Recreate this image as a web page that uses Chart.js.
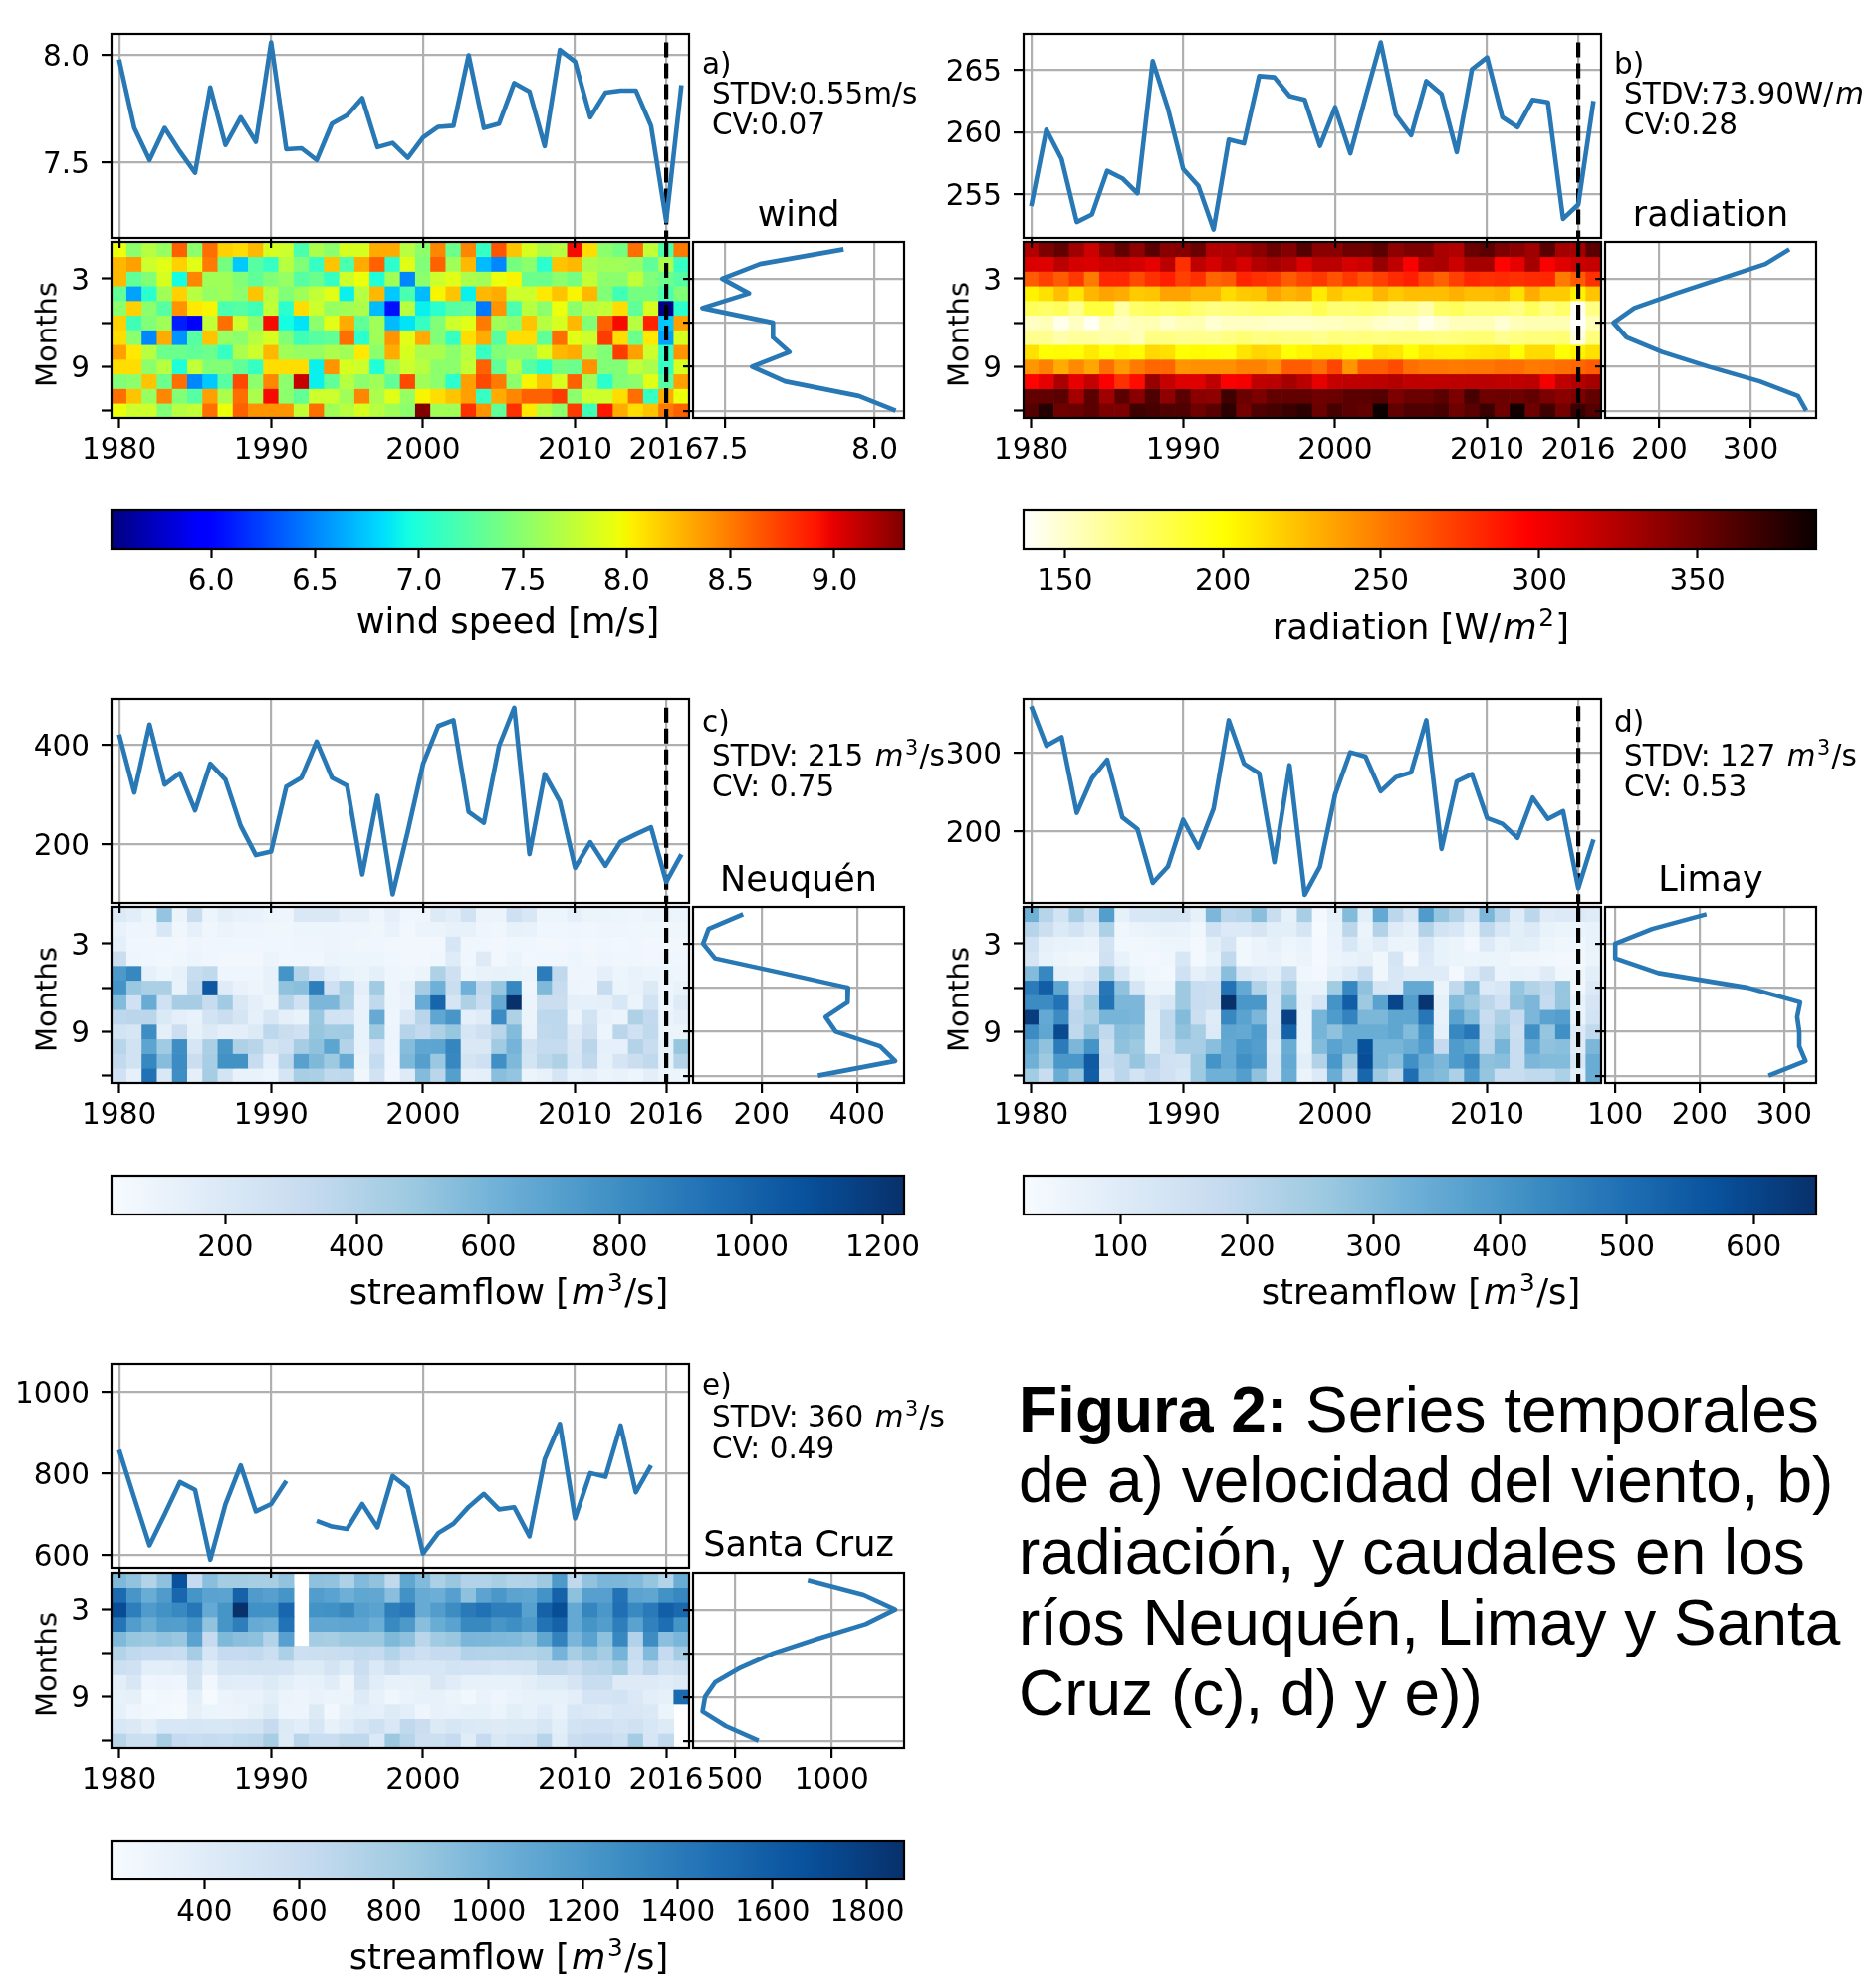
<!DOCTYPE html>
<html>
<head>
<meta charset="utf-8">
<title>Figura 2</title>
<script src="https://cdn.jsdelivr.net/npm/chart.js@4"></script>
<style>
html, body { margin: 0; padding: 0; background: #fff; }
#page { position: relative; width: 1872px; height: 1997px; overflow: hidden; background: #fff; }
#page canvas { position: absolute; }
.txt { position: absolute; font-family: "DejaVu Sans"; color: #000; white-space: nowrap; line-height: 1; }
.txt i { padding-left: 2px; }
.txt sup { font-size: 70%; line-height: 0; padding: 0 1.5px; }
#caption { position: absolute; left: 1023px; top: 1381px; font-family: "Liberation Sans"; font-size: 64px; line-height: 71.3px; color: #000; white-space: nowrap; }
</style>
</head>
<body>
<div id="page"></div>
<script>
// Chart values
const years = [1980,1981,1982,1983,1984,1985,1986,1987,1988,1989,1990,1991,1992,1993,1994,1995,1996,1997,1998,1999,2000,2001,2002,2003,2004,2005,2006,2007,2008,2009,2010,2011,2012,2013,2014,2015,2016,2017];
const months = [1,2,3,4,5,6,7,8,9,10,11,12];

const windYearly = [7.98,7.66,7.51,7.66,7.55,7.45,7.85,7.58,7.71,7.595,8.06,7.56,7.565,7.51,7.68,7.72,7.80,7.57,7.59,7.52,7.615,7.665,7.67,8.0,7.66,7.68,7.87,7.83,7.575,8.025,7.97,7.71,7.825,7.835,7.835,7.67,7.225,7.86];
const radYearly = [254.07,260.2,257.85,252.8,253.4,256.9,256.3,255.1,265.7,261.9,257.05,255.7,252.2,259.4,259.1,264.5,264.4,262.9,262.6,258.9,262.0,258.3,262.8,267.2,261.4,259.75,264.1,263.05,258.4,265.05,266.0,261.2,260.4,262.6,262.4,253.05,254.2,262.5];
const neuquenYearly = [421,304,441,320,343,268,362,330,237,178,185,316,334,406.6,334,318,139,297.5,99,226,361.5,438,450,265,243,398,475,180,341,286,152.5,204,156.5,205,220,234,124,179.5];
const limayYearly = [358.8,308.8,319.6,223.7,267.5,291,218,203,135,155.7,215,179.4,229,341,286,273.7,161.3,284,120,155.7,247,300.5,295,251,269,275,341,178,263.4,272.7,217,209.8,192,243,216,225.8,128.4,190];
const santaCruzYearly = [858,740,624,700,779,760,589,725,820,707,725,782,null,684,670,664,725,668,794,765,604,654,677,718,750,712,717,646,835,922,690,801,792,918,754,820,null,null];

const windMonthly = [7.896,7.617,7.49,7.58,7.424,7.66,7.66,7.715,7.59,7.70,7.947,8.07];
const radMonthly = [342.5,316.3,267.3,218.3,172.5,149.7,164,203,254,310,352,361];
const neuquenMonthly = [161.5,89.5,78,103,243.5,381,380,334,355,448,479.5,318];
const limayMonthly = [208,143.8,100,100,151,257,319,315.5,318,318,325.4,281.6];
const santaCruzMonthly = [877,1165.6,1328,1175,929,700,530,399,347,334,454,623];

const windGrid = [
[7.95,7.5,7.7,7.55,8.6,7.5,8.55,8.15,8.1,8.25,7.85,7.8,7.2,7.65,7.5,7.85,7.85,8.3,8.3,7.7,7.5,8.45,7.35,8.45,7.1,8.65,8.2,7.85,7.65,7.7,8.95,8.1,7.5,7.4,8.55,7.75,7.2,8.5],
[8.25,8.35,7.8,7.9,8.15,7.9,8.5,7.4,6.75,7.25,7.1,7.7,7.45,7.1,8.2,7.2,8.3,8.6,7.05,7.9,7.45,8.6,7.6,8.25,6.7,6.5,7.4,7.5,7.05,8.2,8.25,7.65,7.6,7.6,7.55,7.3,7.65,7.1],
[8.25,7.3,7.45,7.85,6.95,8.45,7.6,7.6,7.45,7.3,7.45,7.55,7.25,7.35,7.1,7.8,7.95,7.0,7.6,6.5,7.5,7.8,7.9,7.65,7.6,7.95,8.0,7.35,7.35,7.5,7.4,7.75,7.5,7.5,7.75,7.45,7.35,7.25],
[7.3,6.6,7.05,7.6,8.15,7.7,7.55,7.6,7.5,8.2,7.7,7.45,7.6,7.75,7.9,6.9,7.7,8.25,6.75,7.2,6.7,8.0,8.2,6.9,8.25,8.3,7.8,7.8,8.05,8.2,8.0,8.25,7.45,7.15,7.4,7.4,7.2,7.45],
[7.5,8.15,7.5,7.25,8.4,8.05,8.0,7.2,7.25,7.15,7.75,7.05,8.1,7.8,7.55,7.6,7.65,6.7,6.05,7.7,6.9,7.05,7.25,7.3,6.45,8.4,7.2,7.7,7.5,7.95,7.5,7.7,7.75,8.1,7.3,7.85,5.55,7.05],
[8.15,7.15,7.45,7.6,6.1,5.95,7.75,8.55,7.8,7.5,8.95,6.95,6.85,7.5,7.9,8.3,7.3,7.6,6.7,6.85,7.1,7.45,7.8,7.9,8.5,7.6,7.5,8.2,7.7,7.85,8.25,7.45,8.6,8.95,7.7,8.85,6.75,8.35],
[8.1,7.5,6.5,8.3,6.55,7.25,8.2,7.55,7.5,7.7,7.85,7.45,7.15,7.25,7.3,8.55,7.05,7.6,8.4,7.9,8.3,7.45,7.1,8.1,8.3,7.25,8.1,8.1,7.3,8.55,7.9,7.8,8.75,8.1,7.35,8.05,6.6,7.85],
[8.35,8.05,7.7,7.35,7.35,7.3,7.35,7.1,7.65,7.8,8.25,7.6,7.55,7.55,7.65,7.6,8.05,7.5,8.3,7.85,7.65,7.65,7.5,7.7,7.1,7.45,7.5,7.5,7.85,8.25,8.3,7.6,7.45,8.75,8.35,7.8,7.1,8.4],
[8.1,8.1,7.5,7.7,7.0,7.75,7.45,7.45,7.3,7.1,8.1,8.1,8.1,6.9,8.4,7.85,7.8,7.0,7.6,7.8,7.7,7.5,7.5,7.75,8.6,7.3,7.7,7.25,7.05,7.4,7.35,8.4,7.45,7.45,7.75,7.65,7.1,7.85],
[7.45,7.5,8.2,7.35,8.55,6.5,6.75,7.25,8.7,7.5,8.45,7.5,9.1,6.9,7.3,7.7,7.5,7.6,7.3,8.7,7.6,7.5,7.05,8.35,8.7,8.5,7.5,8.0,8.2,7.85,8.6,7.6,7.05,7.45,7.5,7.9,7.25,8.35],
[8.55,8.2,7.55,8.45,7.45,7.25,8.35,7.65,8.55,7.65,8.95,7.5,7.3,7.8,7.8,7.6,8.45,7.65,7.9,7.55,8.0,8.1,8.2,8.35,7.1,8.3,8.45,8.6,8.6,8.75,7.5,7.8,7.8,8.1,8.55,7.1,8.3,7.95],
[7.95,7.8,7.8,7.45,7.7,7.75,8.55,7.95,8.6,8.4,8.4,8.4,7.75,8.55,7.6,7.7,7.85,7.7,7.6,7.5,9.33,7.6,7.6,8.8,8.4,7.3,8.8,8.05,7.7,7.5,8.75,7.15,8.9,8.3,8.1,8.2,8.5,8.6]
];

const radGrid = [
[325,345,355,332,315,338,355,338,358,340,342,352,325,325,332,340,352,342,360,340,340,350,350,358,338,345,345,328,325,352,358,345,340,332,358,330,330,358],
[310,308,322,312,310,315,316,313,305,322,278,320,312,322,312,325,330,325,310,322,322,312,315,335,320,298,325,328,315,330,330,295,305,330,298,308,315,318],
[262,272,262,275,250,282,282,268,278,285,272,278,258,262,283,278,275,262,270,275,265,275,265,272,280,285,270,260,272,282,278,280,278,280,282,250,262,278],
[205,212,225,210,228,235,232,220,222,235,235,228,228,214,220,222,235,228,232,208,222,215,215,228,220,225,225,225,230,225,225,228,212,232,220,220,205,222],
[178,175,178,165,185,185,160,175,178,175,178,172,168,170,172,175,175,172,172,180,172,172,175,172,165,165,158,175,178,172,172,172,168,178,168,175,140,168],
[152,155,142,152,140,155,152,155,156,150,155,156,148,152,152,152,150,150,150,152,153,155,155,150,148,150,142,148,154,154,155,148,155,156,156,156,138,155],
[165,165,158,162,162,158,160,155,168,168,165,166,165,168,172,168,170,168,168,165,170,168,170,168,170,170,170,168,170,172,172,165,168,170,170,172,145,170],
[212,200,202,200,208,200,205,202,215,212,200,202,200,198,210,216,214,200,204,208,208,202,200,212,210,200,208,206,205,208,210,212,200,214,214,200,205,212],
[240,248,232,245,234,255,238,250,258,258,240,242,242,242,248,248,242,262,262,255,270,240,262,262,268,255,252,252,250,252,252,255,255,250,252,255,258,262],
[295,305,328,305,318,298,278,292,335,318,308,308,320,298,300,320,322,330,322,305,318,320,320,322,325,320,320,320,322,322,322,320,320,322,300,320,325,330],
[355,355,358,330,358,332,358,340,362,338,358,340,338,368,352,345,355,355,355,350,352,358,358,360,345,352,352,358,345,365,350,352,350,355,345,340,345,355],
[360,378,350,352,358,345,345,368,365,362,362,350,358,375,348,362,365,370,375,352,365,358,355,387,355,362,362,365,350,358,370,350,385,350,368,348,370,360]
];

const neuquenGrid = [
[190,160,100,510,95,310,85,150,125,115,85,80,205,205,205,140,140,80,140,70,80,190,160,260,95,95,280,215,85,85,140,95,95,85,80,95,95,85],
[110,80,80,215,75,130,75,100,80,80,75,75,85,85,85,80,80,75,110,65,95,95,125,125,80,75,125,110,70,70,80,70,80,80,75,75,75,75],
[140,70,70,70,65,80,70,70,70,70,70,70,80,80,85,80,75,70,65,60,60,65,225,75,70,65,70,70,65,65,70,65,70,65,70,65,65,65],
[300,80,70,65,75,85,70,65,65,65,100,70,70,75,95,85,85,85,70,65,65,70,170,70,180,60,100,65,70,70,85,75,80,75,70,65,70,70],
[740,830,130,85,125,310,350,80,80,80,125,770,400,270,160,115,95,140,80,75,95,420,280,85,110,125,115,95,880,350,80,80,140,85,115,95,85,80],
[770,490,430,430,115,350,1050,170,110,85,125,520,540,870,280,430,140,470,80,125,450,620,300,620,350,500,830,80,570,320,85,80,320,95,110,190,80,115],
[560,270,640,270,450,450,320,470,205,140,95,390,270,580,580,410,110,350,85,110,640,990,235,420,310,650,1232,100,300,300,140,130,140,215,100,250,85,180],
[360,370,370,200,140,115,250,300,235,130,215,140,115,490,260,250,110,650,80,205,380,670,760,140,170,810,420,100,360,360,95,250,110,100,420,340,95,140],
[250,225,800,140,290,125,190,140,150,190,360,300,270,500,460,470,115,480,85,390,340,420,500,225,280,380,560,110,350,360,180,280,85,370,270,350,100,95],
[380,260,680,470,800,225,430,760,420,380,245,280,450,520,680,400,115,270,85,550,670,680,840,205,205,470,600,260,330,330,205,370,130,130,400,310,115,500],
[340,260,830,550,810,300,440,780,780,320,130,360,700,570,480,650,100,330,80,570,710,490,830,245,280,790,570,245,360,420,215,350,125,235,300,350,110,400],
[270,130,930,205,800,140,450,245,110,115,85,235,440,430,350,360,75,260,70,180,560,370,710,130,140,540,510,100,125,235,115,140,95,110,85,150,85,85]
];

const limayGrid = [
[330,210,140,240,160,380,80,120,120,130,130,80,310,200,210,290,170,80,240,40,80,300,90,350,200,130,390,270,220,130,310,210,100,200,100,110,110,100],
[210,160,110,140,100,230,50,60,70,75,70,50,150,110,110,130,90,90,130,30,70,200,60,220,100,80,220,140,120,70,190,120,90,110,70,60,60,70],
[150,80,70,65,60,140,45,45,50,55,55,40,90,130,45,60,80,55,70,35,65,120,70,100,60,60,120,70,60,40,110,70,90,85,55,50,50,70],
[130,70,55,50,50,150,70,45,40,50,120,40,70,190,45,60,65,50,60,35,60,70,80,50,130,40,110,70,60,55,60,60,50,50,45,40,40,60],
[300,440,80,75,100,260,120,60,50,40,150,80,110,290,130,110,90,170,50,40,80,110,170,50,120,100,100,100,40,100,160,60,70,65,100,50,50,90],
[470,540,360,130,170,480,280,130,60,60,260,170,160,490,350,220,130,240,70,70,250,440,280,130,120,350,350,60,190,290,110,120,270,220,190,270,50,110],
[430,430,490,180,260,490,310,310,100,120,260,170,160,650,400,400,120,300,80,130,410,540,260,370,600,380,640,80,300,260,200,150,280,310,180,270,70,130],
[620,350,430,200,230,320,320,310,90,190,300,160,100,440,370,310,120,610,70,320,390,450,310,310,360,360,480,70,370,300,170,230,180,310,370,380,60,140],
[430,360,590,190,280,190,290,280,90,190,280,240,110,360,350,390,130,530,70,320,280,340,340,340,360,300,410,80,440,480,190,260,160,420,270,420,110,190],
[350,280,470,310,410,160,280,260,90,160,240,240,290,350,400,380,110,340,70,300,370,340,570,320,320,340,390,180,390,360,200,320,170,350,280,290,100,310],
[330,260,400,400,550,170,200,270,200,150,140,260,410,350,420,390,120,350,90,220,400,260,580,320,290,420,340,310,390,440,280,290,170,310,300,300,120,340],
[250,170,340,270,540,130,200,140,180,150,120,260,330,330,380,280,120,340,60,110,340,190,520,260,200,500,320,300,230,390,270,170,170,190,190,230,90,340]
];

const santaCruzGrid = [
[960,880,720,900,1670,620,920,800,800,780,780,880,null,900,880,740,950,880,650,1100,950,760,850,730,730,780,720,730,830,1200,650,880,980,970,950,870,720,1050],
[1500,1220,1050,1180,1530,1230,1130,1120,1560,1180,1150,1230,null,1170,1130,1030,1100,1090,920,1250,1060,1040,1150,900,1120,1210,1120,1100,1240,1560,900,1150,1150,1450,1120,1100,1250,1320],
[1700,1380,1180,1250,1310,1420,1070,1230,1878,1260,1260,1530,null,1240,1260,1310,1160,1130,1380,1420,1060,1170,1280,1400,1460,1380,1380,1140,1560,1690,1080,1330,1210,1470,1300,1400,1580,1520],
[1430,1170,1050,1170,1160,1240,880,1230,1380,1060,1040,1450,null,1090,1090,1110,1110,1040,1300,1200,920,1050,1130,1310,1310,1220,1270,1200,1450,1560,1080,1230,1170,1380,1130,1360,1480,1230],
[960,860,840,880,850,1130,620,960,920,900,720,1150,null,800,780,840,840,840,960,900,680,820,850,980,970,960,950,900,1100,1350,980,1130,900,1320,730,1280,910,980],
[720,650,620,620,600,790,480,620,620,640,570,760,560,570,590,600,640,620,720,620,560,620,620,730,720,720,730,720,760,1000,780,880,800,1000,600,950,620,800],
[560,540,380,380,400,530,380,500,510,520,520,500,420,420,500,420,580,440,560,470,470,470,520,500,500,480,490,510,660,660,600,680,700,800,550,680,530,560],
[370,460,280,290,280,510,250,400,390,390,430,380,320,340,400,290,530,390,340,340,350,460,400,340,340,340,340,370,420,420,490,600,600,410,410,410,400,430],
[340,350,230,260,240,380,220,300,320,320,380,300,290,320,300,300,410,340,270,310,340,340,300,260,310,280,310,340,340,340,370,500,500,520,440,370,350,1500],
[350,280,260,240,230,350,300,290,300,350,420,290,290,430,250,350,380,360,420,380,280,330,320,340,340,300,380,340,400,320,470,440,420,470,460,440,300,null],
[470,440,370,470,470,480,470,470,490,510,620,430,390,480,340,400,480,550,450,650,580,430,480,440,430,410,430,430,480,380,520,540,540,500,540,470,420,null],
[690,570,560,780,620,600,620,600,640,660,780,420,680,580,580,660,660,440,840,700,560,560,620,400,620,450,500,520,700,400,580,620,620,560,800,480,640,null]
];

// tick labels and axis limits
const xTicksFull = [1980,1990,2000,2010,2016];
const xTicksShort = [1980,1990,2000,2010];
const monthTicks = [3,6,9,12];
const monthLabels = [3,9];

const windTicks = [7.5,8.0], windLimits = [7.146,8.10];
const radTicks = [255,260,265], radLimits = [251.53,267.88];
const neuquenTicks = [200,400], neuquenLimits = [82,492.6];
const limayTicks = [200,300], limayLimits = [109.8,368];
const santaCruzTicks = [600,800,1000], santaCruzLimits = [569,1069];

const windSideTicks = [7.5,8.0], windSideLimits = [7.393,8.098];
const radSideTicks = [200,300], radSideLimits = [140.5,371.9];
const neuquenSideTicks = [200,400], neuquenSideLimits = [57,498];
const limaySideTicks = [100,200,300], limaySideLimits = [88,338];
const santaCruzSideTicks = [500,1000], santaCruzSideLimits = [285,1374];

const windBarTicks = [6.0,6.5,7.0,7.5,8.0,8.5,9.0], windBarLimits = [5.52,9.336];
const radBarTicks = [150,200,250,300,350], radBarLimits = [137,387.6];
const neuquenBarTicks = [200,400,600,800,1000,1200], neuquenBarLimits = [26.7,1232.7];
const limayBarTicks = [100,200,300,400,500,600], limayBarLimits = [23.6,649.5];
const santaCruzBarTicks = [400,600,800,1000,1200,1400,1600,1800], santaCruzBarLimits = [203.4,1878];

// matplotlib colormaps as [position, value] per channel
const jetMap = {
    r: [[0,0],[0.35,0],[0.66,1],[0.89,1],[1,0.5]],
    g: [[0,0],[0.125,0],[0.375,1],[0.64,1],[0.91,0],[1,0]],
    b: [[0,0.5],[0.11,1],[0.34,1],[0.65,0],[1,0]]
};
const hotRMap = {
    r: [[0,1],[0.635,1],[1,0.0416]],
    g: [[0,1],[0.254,1],[0.635,0],[1,0]],
    b: [[0,1],[0.254,0],[1,0]]
};
const bluesMap = {
    r: [[0,.969],[.125,.871],[.25,.776],[.375,.62],[.5,.42],[.625,.259],[.75,.129],[.875,.031],[1,.031]],
    g: [[0,.984],[.125,.922],[.25,.859],[.375,.792],[.5,.682],[.625,.573],[.75,.443],[.875,.318],[1,.188]],
    b: [[0,1],[.125,.969],[.25,.937],[.375,.882],[.5,.839],[.625,.776],[.75,.71],[.875,.612],[1,.42]]
};

function channel(points, t) {
    for (let i = 1; i < points.length; i++) {
        if (t <= points[i][0]) {
            const a = points[i - 1], b = points[i];
            return Math.round(255 * (a[1] + (b[1] - a[1]) * (t - a[0]) / (b[0] - a[0])));
        }
    }
    return Math.round(255 * points[points.length - 1][1]);
}

function colorFor(map, value, limits) {
    const t = Math.min(1, Math.max(0, (value - limits[0]) / (limits[1] - limits[0])));
    return `rgb(${channel(map.r, t)},${channel(map.g, t)},${channel(map.b, t)})`;
}

Chart.defaults.font.family = '"DejaVu Sans"';
Chart.defaults.font.size = 29.5;
Chart.defaults.color = '#000';

const page = document.getElementById('page');
const LINE_BLUE = '#2878b5';
const LINE_W = 4.6;
const GRID_GRAY = '#b0b0b0';
const SPINE = 2.2;

// black box round the plot area
const framePlugin = {
    id: 'frame',
    afterDraw(chart) {
        const a = chart.chartArea, c = chart.ctx;
        c.save();
        c.strokeStyle = '#000';
        c.lineWidth = SPINE;
        c.strokeRect(a.left, a.top, a.right - a.left, a.bottom - a.top);
        c.restore();
    }
};

// canvas is bigger than the plot so labels fit; gutters pin the plot area to the rect
function newChart(rect, gutter, config) {
    const canvas = document.createElement('canvas');
    canvas.width = rect.w + gutter.l + gutter.r;
    canvas.height = rect.h + gutter.t + gutter.b;
    canvas.style.left = (rect.x - gutter.l) + 'px';
    canvas.style.top = (rect.y - gutter.t) + 'px';
    page.appendChild(canvas);
    config.plugins = [framePlugin];
    config.options = Object.assign({
        responsive: false,
        animation: false,
        devicePixelRatio: 1,
        events: [],
        layout: { padding: { top: gutter.t, right: gutter.r, left: 0, bottom: 0 } }
    }, config.options);
    config.options.plugins = { legend: { display: false }, tooltip: { enabled: false }, title: { display: false } };
    return new Chart(canvas.getContext('2d'), config);
}

function fixedTicks(values) {
    return s => { s.ticks = values.map(v => ({ value: v })); };
}

function axisBase(extra) {
    return Object.assign({
        border: { display: false },
        grid: { color: GRID_GRAY, lineWidth: SPINE, tickColor: '#000', tickWidth: SPINE, tickLength: 10 }
    }, extra);
}

// yearly series with optional dashed line at 2016
function drawTop(rect, p) {
    const gutter = { l: 112, r: 20, t: 40, b: 40 };
    const datasets = [{
        data: years.map((y, i) => ({ x: y, y: p.yearly[i] })),
        borderColor: LINE_BLUE, borderWidth: LINE_W, borderJoinStyle: 'round', pointRadius: 0, showLine: true, spanGaps: false, tension: 0
    }];
    if (p.dashed) {
        const top = Math.max(...p.yearly);
        datasets.push({
            data: [{ x: 2016, y: top }, { x: 2016, y: p.limits[0] }],
            borderColor: '#000', borderWidth: 4.2, borderDash: [15, 6], pointRadius: 0, showLine: true
        });
    }
    newChart(rect, gutter, {
        type: 'scatter',
        data: { datasets },
        options: {
            scales: {
                x: axisBase({
                    type: 'linear', min: 1979.5, max: 2017.5,
                    afterBuildTicks: fixedTicks(xTicksFull),
                    afterFit: s => { s.height = gutter.b; },
                    ticks: { autoSkip: false, maxRotation: 0, callback: () => '' }
                }),
                y: axisBase({
                    min: p.limits[0], max: p.limits[1],
                    afterBuildTicks: fixedTicks(p.ticks),
                    afterFit: s => { s.width = gutter.l; },
                    ticks: { autoSkip: false, padding: 12, labelOffset: 3, callback: v => p.tickFormat(v) }
                })
            }
        }
    });
}

// one floating bar per cell, month rows on a linear axis and years as categories
function drawHeat(rect, p) {
    const gutter = { l: 112, r: 40, t: 40, b: 70 };
    const datasets = months.map((m, r) => ({
        type: 'bar',
        data: p.grid[r].map(v => v === null ? null : [m - 0.5, m + 0.5]),
        backgroundColor: p.grid[r].map(v => v === null ? 'rgba(0,0,0,0)' : colorFor(p.map, v, p.barLimits)),
        borderWidth: 0,
        grouped: false,
        barPercentage: 1,
        categoryPercentage: 1,
        order: 2
    }));
    if (p.dashed) {
        datasets.push({
            type: 'line',
            data: [{ x: '2016', y: 0.5 }, { x: '2016', y: 12.5 }],
            borderColor: '#000', borderWidth: 4.2, borderDash: [15, 6], pointRadius: 0, order: 1
        });
    }
    const shown = p.heatTicks;
    newChart(rect, gutter, {
        type: 'bar',
        data: { labels: years.map(String), datasets },
        options: {
            scales: {
                x: axisBase({
                    type: 'category', offset: true,
                    grid: { offset: false, drawOnChartArea: false, tickColor: '#000', tickWidth: SPINE, tickLength: 10 },
                    afterBuildTicks: s => { s.ticks = s.ticks.filter(t => shown.includes(years[t.value])); },
                    afterFit: s => { s.height = gutter.b; },
                    ticks: { autoSkip: false, maxRotation: 0, minRotation: 0, padding: 6 }
                }),
                y: axisBase({
                    type: 'linear', reverse: true, min: 0.5, max: 12.5,
                    grid: { drawOnChartArea: false, tickColor: '#000', tickWidth: SPINE, tickLength: 10 },
                    afterBuildTicks: fixedTicks(monthTicks),
                    afterFit: s => { s.width = gutter.l; },
                    ticks: { autoSkip: false, padding: 12, labelOffset: 3, callback: v => monthLabels.includes(v) ? String(v) : '' }
                })
            }
        }
    });
}

// monthly profile beside the heatmap
function drawSide(rect, p) {
    const gutter = { l: 60, r: 50, t: 40, b: 70 };
    newChart(rect, gutter, {
        type: 'scatter',
        data: {
            datasets: [{
                data: months.map((m, i) => ({ x: p.monthly[i], y: m })),
                borderColor: LINE_BLUE, borderWidth: LINE_W, borderJoinStyle: 'round', pointRadius: 0, showLine: true, tension: 0
            }]
        },
        options: {
            scales: {
                x: axisBase({
                    type: 'linear', min: p.sideLimits[0], max: p.sideLimits[1],
                    afterBuildTicks: fixedTicks(p.sideTicks),
                    afterFit: s => { s.height = gutter.b; },
                    ticks: { autoSkip: false, maxRotation: 0, padding: 6, callback: v => p.tickFormat(v) }
                }),
                y: axisBase({
                    type: 'linear', reverse: true, min: 0.5, max: 12.5,
                    afterBuildTicks: fixedTicks(monthTicks),
                    afterFit: s => { s.width = gutter.l; },
                    ticks: { autoSkip: false, callback: () => '' }
                })
            }
        }
    });
}

// colour bar: one floating bar from min to max filled with the colormap
function drawBar(rect, p) {
    const gutter = { l: 40, r: 50, t: 4, b: 70 };
    const fill = ctx => {
        const area = ctx.chart.chartArea;
        if (!area) return '#888';
        const g = ctx.chart.ctx.createLinearGradient(area.left, 0, area.right, 0);
        for (let i = 0; i <= 100; i++) {
            const v = p.barLimits[0] + (p.barLimits[1] - p.barLimits[0]) * i / 100;
            g.addColorStop(i / 100, colorFor(p.map, v, p.barLimits));
        }
        return g;
    };
    const chartOpts = {
        type: 'bar',
        data: { labels: [''], datasets: [{ data: [p.barLimits], backgroundColor: fill, borderWidth: 0, barPercentage: 1, categoryPercentage: 1 }] },
        options: {
            indexAxis: 'y',
            scales: {
                x: axisBase({
                    type: 'linear', min: p.barLimits[0], max: p.barLimits[1],
                    grid: { drawOnChartArea: false, tickColor: '#000', tickWidth: SPINE, tickLength: 10 },
                    afterBuildTicks: fixedTicks(p.barTicks),
                    afterFit: s => { s.height = gutter.b; },
                    ticks: { autoSkip: false, maxRotation: 0, padding: 7, callback: v => p.tickFormat(v) }
                }),
                y: { display: false }
            }
        }
    };
    const chart = newChart(rect, gutter, chartOpts);
    chart.options.layout.padding.left = gutter.l;
    chart.update();
}

function addText(html, x, y, size, centered, rotate) {
    const d = document.createElement('div');
    d.className = 'txt';
    d.innerHTML = html;
    d.style.left = x + 'px';
    d.style.top = y + 'px';
    d.style.fontSize = size + 'px';
    d.style.transform = (centered ? 'translate(-50%,-50%)' : 'translateY(-50%)') + (rotate ? ' rotate(-90deg)' : '');
    page.appendChild(d);
}

const one = v => v.toFixed(1);
const whole = v => String(v);
const FLOW = 'streamflow [<i>m</i><sup>3</sup>/s]';

const panels = [
    { x: 112, row: 0, map: jetMap, yearly: windYearly, monthly: windMonthly, grid: windGrid, ticks: windTicks, limits: windLimits,
      sideTicks: windSideTicks, sideLimits: windSideLimits, barTicks: windBarTicks, barLimits: windBarLimits, tickFormat: one,
      dashed: true, heatTicks: xTicksFull, letter: 'a)', stdv: 'STDV:0.55m/s', cv: 'CV:0.07', name: 'wind', label: 'wind speed [m/s]', labelX: 398, labelY: 624 },
    { x: 1028, row: 0, map: hotRMap, yearly: radYearly, monthly: radMonthly, grid: radGrid, ticks: radTicks, limits: radLimits,
      sideTicks: radSideTicks, sideLimits: radSideLimits, barTicks: radBarTicks, barLimits: radBarLimits, tickFormat: whole,
      dashed: true, heatTicks: xTicksFull, letter: 'b)', stdv: 'STDV:73.90W/<i>m</i><sup>2</sup>', cv: 'CV:0.28', name: 'radiation', label: 'radiation [W/<i>m</i><sup>2</sup>]', labelX: 399, labelY: 630 },
    { x: 112, row: 1, map: bluesMap, yearly: neuquenYearly, monthly: neuquenMonthly, grid: neuquenGrid, ticks: neuquenTicks, limits: neuquenLimits,
      sideTicks: neuquenSideTicks, sideLimits: neuquenSideLimits, barTicks: neuquenBarTicks, barLimits: neuquenBarLimits, tickFormat: whole,
      dashed: true, heatTicks: xTicksFull, letter: 'c)', stdv: 'STDV: 215 <i>m</i><sup>3</sup>/s', cv: 'CV: 0.75', name: 'Neuquén', label: FLOW, labelX: 399, labelY: 1298 },
    { x: 1028, row: 1, map: bluesMap, yearly: limayYearly, monthly: limayMonthly, grid: limayGrid, ticks: limayTicks, limits: limayLimits,
      sideTicks: limaySideTicks, sideLimits: limaySideLimits, barTicks: limayBarTicks, barLimits: limayBarLimits, tickFormat: whole,
      dashed: true, heatTicks: xTicksShort, letter: 'd)', stdv: 'STDV: 127 <i>m</i><sup>3</sup>/s', cv: 'CV: 0.53', name: 'Limay', label: FLOW, labelX: 399, labelY: 1298 },
    { x: 112, row: 2, map: bluesMap, yearly: santaCruzYearly, monthly: santaCruzMonthly, grid: santaCruzGrid, ticks: santaCruzTicks, limits: santaCruzLimits,
      sideTicks: santaCruzSideTicks, sideLimits: santaCruzSideLimits, barTicks: santaCruzBarTicks, barLimits: santaCruzBarLimits, tickFormat: whole,
      dashed: false, heatTicks: xTicksFull, letter: 'e)', stdv: 'STDV: 360 <i>m</i><sup>3</sup>/s', cv: 'CV: 0.49', name: 'Santa Cruz', label: FLOW, labelX: 399, labelY: 1966 }
];

const rows = [
    { top: 34, topH: 205, heat: 243, heatH: 177, bar: 512, letter: 65, stdv: 95, cv: 126, name: 215 },
    { top: 702, topH: 205, heat: 911, heatH: 177, bar: 1181, letter: 726, stdv: 760, cv: 791, name: 883 },
    { top: 1370, topH: 205, heat: 1580, heatH: 176, bar: 1849, letter: 1392, stdv: 1424, cv: 1456, name: 1551 }
];

panels.forEach(p => {
    const r = rows[p.row];
    drawHeat({ x: p.x, y: r.heat, w: 580, h: r.heatH }, p);
    drawSide({ x: p.x + 584, y: r.heat, w: 212, h: r.heatH }, p);
    drawTop({ x: p.x, y: r.top, w: 580, h: r.topH }, p);
    drawBar({ x: p.x, y: r.bar, w: 796, h: 39 }, p);
    addText('Months', p.x - 65, r.heat + r.heatH / 2 + 4, 29, true, true);
    addText(p.letter, p.x + 593, r.letter, 29.5);
    addText(p.stdv, p.x + 603, r.stdv, 29.5);
    addText(p.cv, p.x + 603, r.cv, 29.5);
    addText(p.name, p.x + 690, r.name, 35, true);
    addText(p.label, p.x + p.labelX, p.labelY, 35.3, true);
});

const caption = document.createElement('div');
caption.id = 'caption';
caption.innerHTML = '<b>Figura 2:</b> Series temporales<br>de a) velocidad del viento, b)<br>radiación, y caudales en los<br>ríos Neuquén, Limay y Santa<br>Cruz (c), d) y e))';
page.appendChild(caption);
</script>
</body>
</html>
